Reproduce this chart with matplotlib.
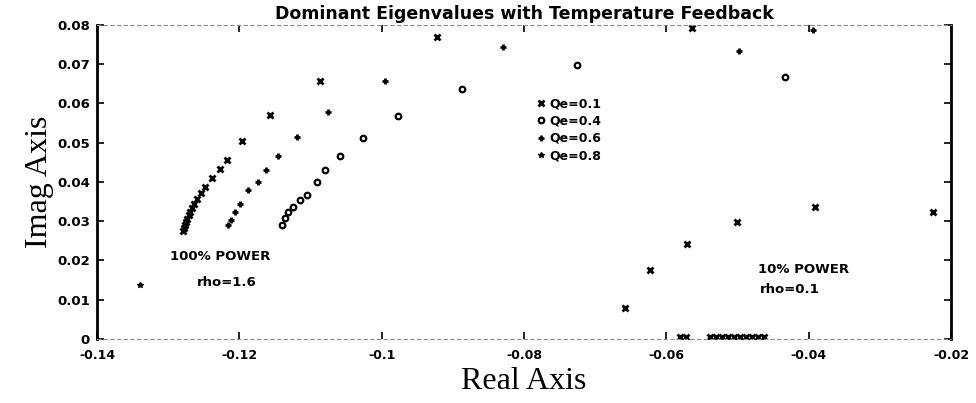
import matplotlib
matplotlib.use("Agg")
import matplotlib.pyplot as plt

# eigenvalue loci, 100% power (rho = 1.6), one arc per Qe
qe1_re = [-0.1279, -0.1278, -0.1276, -0.1275, -0.1274, -0.1271, -0.1269, -0.1267,
          -0.1264, -0.1260, -0.1254, -0.1248, -0.1238, -0.1227, -0.1217, -0.1196,
          -0.1157, -0.1087, -0.0922, -0.0564]
qe1_im = [0.0275, 0.0283, 0.0291, 0.0298, 0.0306, 0.0316, 0.0324, 0.0334,
          0.0344, 0.0357, 0.0372, 0.0387, 0.0410, 0.0433, 0.0456, 0.0505,
          0.0571, 0.0657, 0.0770, 0.0792]

qe4_re = [-0.1140, -0.1136, -0.1132, -0.1125, -0.1115, -0.1105, -0.1091, -0.1080,
          -0.1059, -0.1026, -0.0977, -0.0887, -0.0726, -0.0433]
qe4_im = [0.0291, 0.0308, 0.0324, 0.0336, 0.0354, 0.0367, 0.0400, 0.0431,
          0.0466, 0.0512, 0.0568, 0.0637, 0.0698, 0.0668]

qe6_re = [-0.1216, -0.1212, -0.1206, -0.1199, -0.1188, -0.1174, -0.1163, -0.1146,
          -0.1119, -0.1075, -0.0995, -0.0830, -0.0498, -0.0394]
qe6_im = [0.0291, 0.0303, 0.0324, 0.0344, 0.0380, 0.0400, 0.0431, 0.0466,
          0.0515, 0.0578, 0.0657, 0.0744, 0.0734, 0.0787]

qe8_re = [-0.1340]
qe8_im = [0.0138]

# 10% power (rho = 0.1)
low_re = [-0.0658, -0.0623, -0.0571, -0.0501, -0.0391, -0.0225,
          -0.0581, -0.0573, -0.0539, -0.0530, -0.0522, -0.0514, -0.0505,
          -0.0497, -0.0488, -0.0480, -0.0471, -0.0463]
low_im = [0.0079, 0.0176, 0.0242, 0.0298, 0.0336, 0.0324,
          0.0005, 0.0005, 0.0005, 0.0005, 0.0005, 0.0005, 0.0005,
          0.0005, 0.0005, 0.0005, 0.0005, 0.0005]

xticks = [-0.14, -0.12, -0.1, -0.08, -0.06, -0.04, -0.02]
xlabels = ["-0.14", "-0.12", "-0.1", "-0.08", "-0.06", "-0.04", "-0.02"]
yticks = [0, 0.01, 0.02, 0.03, 0.04, 0.05, 0.06, 0.07, 0.08]
ylabels = ["0", "0.01", "0.02", "0.03", "0.04", "0.05", "0.06", "0.07", "0.08"]

fig = plt.figure(figsize=(9.76, 4.03), dpi=100)
ax = fig.add_axes([0.0994, 0.1588, 0.8750, 0.7792])

ax.plot(qe1_re, qe1_im, "kx", ms=5, mew=2.0, label="Qe=0.1")
ax.plot(qe4_re, qe4_im, "ko", ms=4, mew=1.6, mfc="none", label="Qe=0.4")
ax.plot(qe6_re, qe6_im, "k+", ms=5, mew=2.0, label="Qe=0.6")
ax.plot(qe8_re, qe8_im, "k*", ms=4, mew=1.0, label="Qe=0.8")
ax.plot(low_re, low_im, "kx", ms=5, mew=2.0)

ax.set_xlim(-0.14, -0.02)
ax.set_ylim(0, 0.08)
ax.set_xticks(xticks)
ax.set_xticklabels(xlabels, fontsize=9, fontweight="bold", family="DejaVu Sans")
ax.set_yticks(yticks)
ax.set_yticklabels(ylabels, fontsize=9.5, fontweight="bold", family="DejaVu Sans")
ax.tick_params(direction="in", length=5, width=1.2, top=True, right=True)
ax.tick_params(axis="x", pad=7)
ax.tick_params(axis="y", pad=5)

for side in ["left", "right"]:
    ax.spines[side].set_linewidth(2)
for side in ["top", "bottom"]:
    ax.spines[side].set_linewidth(0.8)
    ax.spines[side].set_linestyle((0, (3, 3)))
    ax.spines[side].set_color("0.55")

ax.set_title("Dominant Eigenvalues with Temperature Feedback", fontsize=12.5,
             fontweight="bold", family="DejaVu Sans", pad=4)
ax.set_xlabel("Real Axis", fontsize=23, family="Liberation Serif", labelpad=4)
ax.set_ylabel("Imag Axis", fontsize=23, family="Liberation Serif", labelpad=2)

ax.text(-0.1297, 0.0209, "100% POWER", fontsize=9.5, fontweight="bold", va="center")
ax.text(-0.1260, 0.0145, "rho=1.6", fontsize=9.5, fontweight="bold", va="center")
ax.text(-0.0471, 0.0176, "10% POWER", fontsize=9.5, fontweight="bold", va="center")
ax.text(-0.0469, 0.0125, "rho=0.1", fontsize=9.5, fontweight="bold", va="center")

leg = ax.legend(loc="upper left", bbox_to_anchor=(0.515, 0.77), frameon=False,
                handlelength=0.6, handletextpad=0.4, labelspacing=0.35,
                borderpad=0, borderaxespad=0,
                prop={"family": "DejaVu Sans", "weight": "bold", "size": 9})

fig.savefig("out.png", dpi=100)
